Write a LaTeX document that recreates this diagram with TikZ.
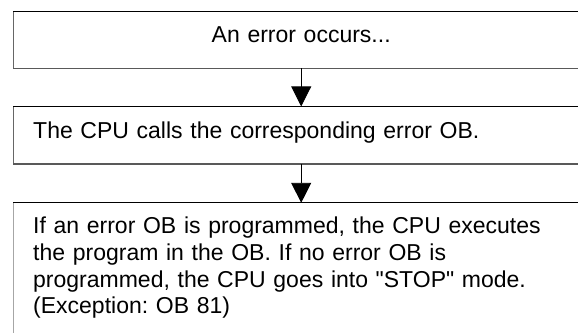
\documentclass[tikz,border=0pt]{standalone}
\usepackage{fontspec}
\newfontfamily\flowfont{Liberation Sans}
\usetikzlibrary{arrows.meta,positioning}

\begin{document}
\begin{tikzpicture}[
    node distance=38pt and 0pt,
    box/.style={align=left, font=\flowfont\fontsize{23}{26.7}\selectfont\frenchspacing, inner xsep=20pt, inner ysep=0pt, text width=536pt},
    onebox/.style={box, minimum height=57pt, text height=17pt, text depth=11pt},
    topline/.style={black, line width=0.9pt},
    baseline/.style={black!65, line width=1.6pt},
    sideline/.style={black!60, line width=0.9pt},
    arrow/.style={-{Triangle[width=20pt,length=20pt]}, black, line width=0.9pt}
  ]
    \useasboundingbox (0,0) rectangle (578pt,-332pt);
    \clip (0,0) rectangle (578pt,-332pt);

    % Error
    \node[onebox, align=center, anchor=north west] (err) at (13pt,-11pt) {An error occurs...};

    % Call of the error OB
    \node[onebox, below=of err] (call) {The CPU calls the corresponding error OB.};

    % Reaction
    \node[box, inner ysep=14pt, below=39pt of call] (react) {If an error OB is programmed, the CPU executes\\
      the program in the OB. If no error OB is\\
      programmed, the CPU goes into "STOP" mode.\\
      (Exception: OB 81)};

    % Frames
    \draw[sideline] (err.north west) -- (err.south west);
    \draw[topline] (err.north west) -- (err.north east);
    \draw[baseline] (err.south west) -- (err.south east);
    \draw[sideline] (call.north west) -- (call.south west);
    \draw[topline] (call.north west) -- (call.north east);
    \draw[baseline] (call.south west) -- (call.south east);
    \draw[black!35, line width=0.9pt] (react.north west) -- (react.south west);
    \draw[topline] (react.north west) -- (react.north east);

    % Arrows
    \draw[arrow] (err.south) -- (call.north);
    \draw[arrow] (call.south) -- (react.north);
  \end{tikzpicture}
\end{document}
